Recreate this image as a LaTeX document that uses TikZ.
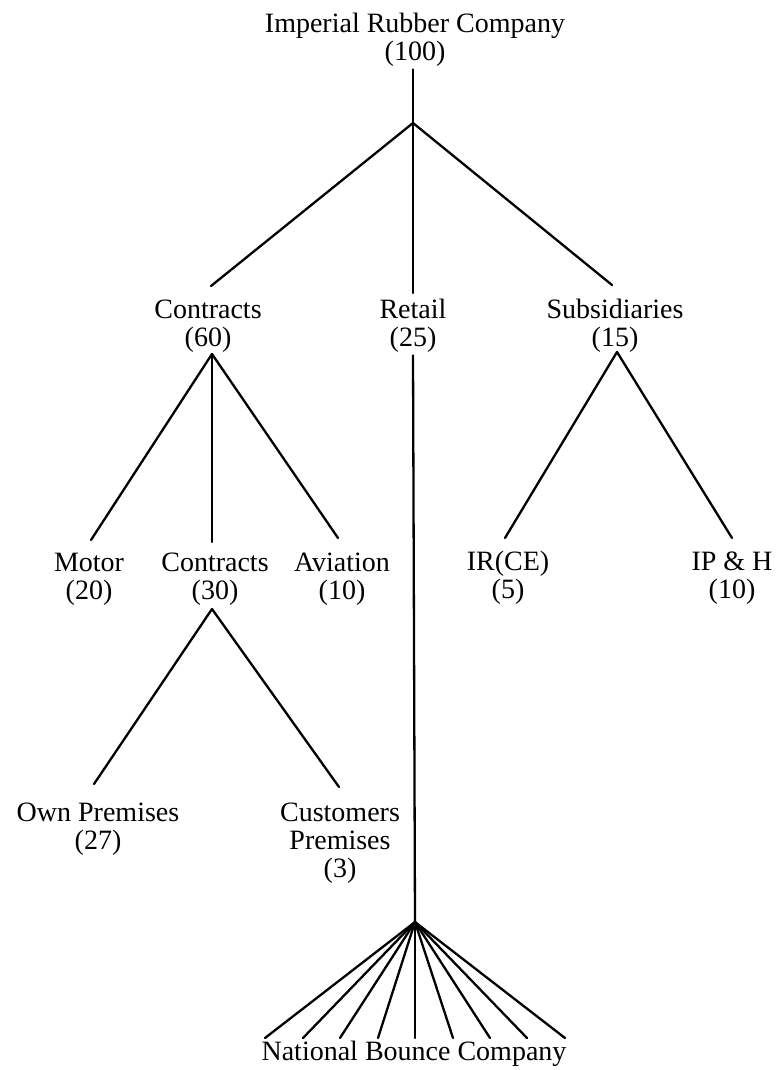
\documentclass[tikz,border=0pt]{standalone}
\usepackage{fontspec}
\setmainfont{Liberation Serif}
\begin{document}
\begin{tikzpicture}[x=1pt,y=-1pt,
  lbl/.style={font=\fontsize{28}{28}\selectfont, align=center, inner sep=0pt, anchor=north},
  link/.style={line width=2.3pt, line cap=round}]
\useasboundingbox (0,0) rectangle (776,1070);
% labels
\node[lbl] (irc) at (415,13) {\strut Imperial Rubber Company\\\strut(100)};
\node[lbl] (contracts) at (208,299) {\strut Contracts\\\strut(60)};
\node[lbl] (retail) at (413,299) {\strut Retail\\\strut(25)};
\node[lbl] (subs) at (615,299) {\strut Subsidiaries\\\strut(15)};
\node[lbl] (motor) at (89,552) {\strut Motor\\\strut(20)};
\node[lbl] (contracts2) at (215,552) {\strut Contracts\\\strut(30)};
\node[lbl] (aviation) at (342,552) {\strut Aviation\\\strut(10)};
\node[lbl] (irce) at (508,551) {\strut IR(CE)\\\strut(5)};
\node[lbl] (iph) at (732,551) {\strut IP \& H\\\strut(10)};
\node[lbl] (own) at (98,802) {\strut Own Premises\\\strut(27)};
\node[lbl] (cust) at (340,802) {\strut Customers\\\strut Premises\\\strut(3)};
\node[lbl] (national) at (414,1041) {\strut National Bounce Company};
% junctions
\coordinate (j0) at (413,123);
\coordinate (j1) at (212,354);
\coordinate (j2) at (212,609);
\coordinate (j3) at (617,352);
\coordinate (jr) at (415,922);
% connectors
\draw[link] (j0 |- irc.south) -- (j0);
\draw[link] (j0) -- ([xshift=3,yshift=13]contracts.north);
\draw[link] (j0) -- ([yshift=6]retail.north);
\draw[link] (j0) -- ([xshift=-3,yshift=14]subs.north);
\draw[link] (j1) -- ([xshift=2,yshift=12]motor.north);
\draw[link] (j1) -- ([xshift=-3,yshift=10]contracts2.north);
\draw[link] (j1) -- ([xshift=-4,yshift=14]aviation.north);
\draw[link] (j3) -- ([xshift=-3,yshift=13]irce.north);
\draw[link] (j3) -- ([yshift=13]iph.north);
\draw[link] (j2) -- ([xshift=-4,yshift=18]own.north);
\draw[link] (j2) -- ([xshift=-1,yshift=15]cust.north);
\draw[link] (retail.south) -- (jr);
\foreach \x [count=\i] in {265,303,340,378,415,453,490,527,565} {
  \coordinate (f\i) at (\x,1038);
  \draw[link] (jr) -- (f\i);
}
\end{tikzpicture}
\end{document}
